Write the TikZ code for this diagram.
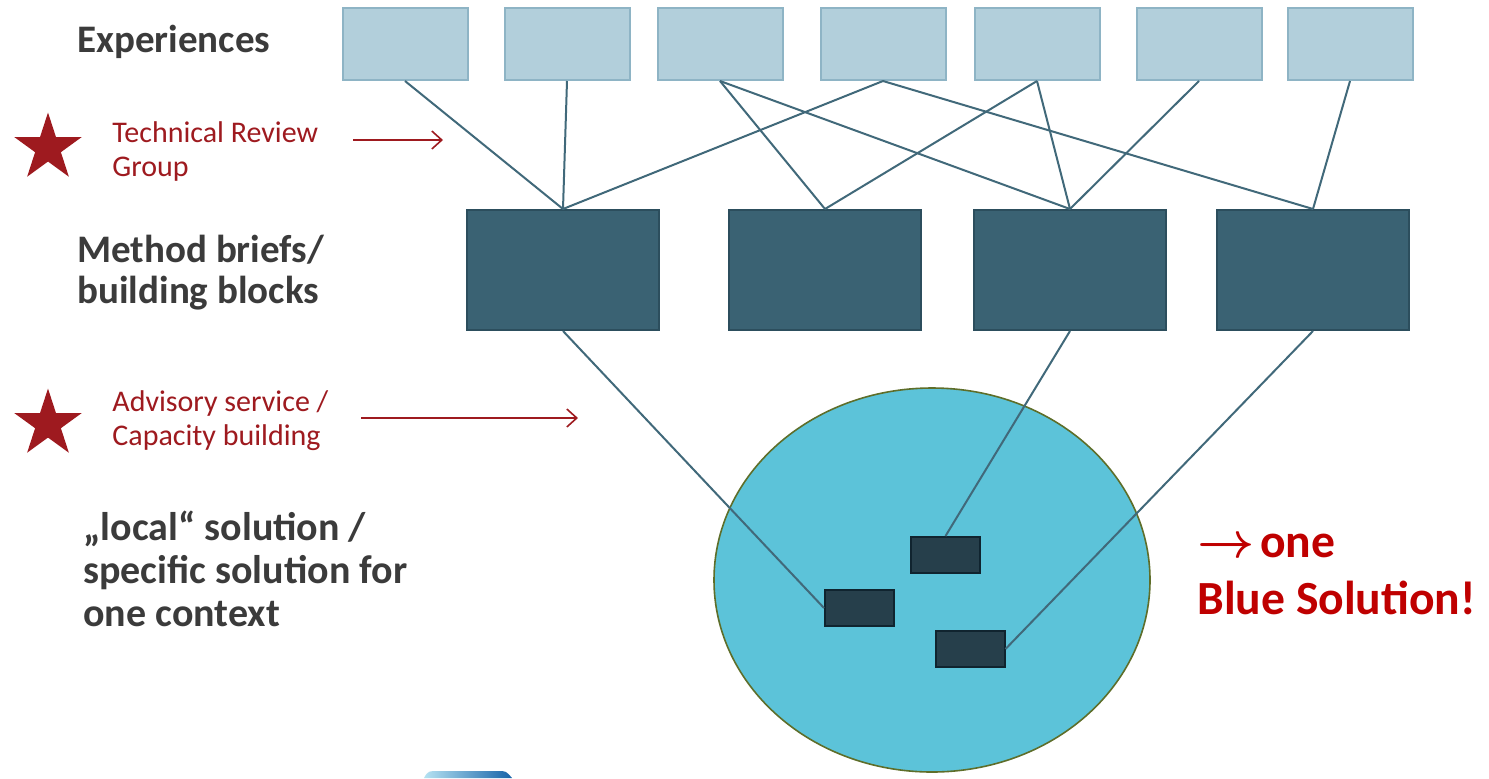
\documentclass[tikz,border=0pt]{standalone}
\usepackage{fontspec}
\setmainfont{Carlito}
\usepackage{tikz}
\usetikzlibrary{shapes.geometric,arrows.meta}
\definecolor{expfill}{HTML}{B2CFDB}
\definecolor{expline}{HTML}{8EB4C5}
\definecolor{brieffill}{HTML}{3A6273}
\definecolor{briefline}{HTML}{2C4E5D}
\definecolor{wire}{HTML}{41697A}
\definecolor{solfill}{HTML}{5CC3D9}
\definecolor{solline}{HTML}{5E6E2A}
\definecolor{localfill}{HTML}{263F4B}
\definecolor{localline}{HTML}{10242F}
\definecolor{darkred}{HTML}{9E1A1F}
\definecolor{logolight}{HTML}{B5E2F2}
\definecolor{logomid}{HTML}{12AEE0}
\definecolor{logodark}{HTML}{1763A8}
\colorlet{labeltext}{black!77}
\colorlet{bluesol}{red!75!black}

\begin{document}
\begin{tikzpicture}[
  x=0.5pt, y=-0.5pt,
  experience/.style={draw=expline, fill=expfill, line width=1pt, inner sep=0pt,
    minimum width=62.5pt, minimum height=36pt},
  brief/.style={draw=briefline, fill=brieffill, line width=1pt, inner sep=0pt,
    minimum width=96pt, minimum height=60pt},
  localbox/.style={draw=localline, fill=localfill, line width=1pt, inner sep=0pt,
    minimum width=34.5pt, minimum height=18pt},
  wire/.style={draw=wire, line width=1pt},
  redstar/.style={star, star points=5, star point ratio=2.618, fill=darkred,
    inner sep=0pt, minimum size=35.5pt},
  hint/.style={draw=darkred, line width=0.8pt, -{Straight Barb[length=5pt,width=9pt]}},
  bigtext/.style={text=labeltext, font=\bfseries\fontsize{19.5}{20.5}\selectfont,
    align=left, inner sep=0pt, anchor=base west},
  redtext/.style={text=darkred, font=\fontsize{15}{17}\selectfont,
    align=left, inner sep=0pt, anchor=base west},
]
\path[fill=white, use as bounding box] (0,0) rectangle (1489,778);

\foreach \i/\x in {1/405,2/567,3/720,4/883,5/1037,6/1199,7/1350}
  \node[experience] (e\i) at (\x,44) {};
\foreach \i/\x in {1/563,2/825,3/1070,4/1313}
  \node[brief] (b\i) at (\x,270) {};
\foreach \e/\b in {1/1,2/1,4/1,3/2,5/2,3/3,5/3,6/3,4/4,7/4}
  \draw[wire] (e\e.south) -- (b\b.north);

\node[ellipse, draw=solline, fill=solfill, line width=0.8pt, inner sep=0pt,
  minimum width=218pt, minimum height=192pt] (sol) at (932,580) {};
\node[localbox] (l1) at (859.5,608) {};
\node[localbox] (l2) at (945.5,555) {};
\node[localbox] (l3) at (970,649) {};
\draw[wire] (b1.south) -- (l1.west);
\draw[wire] (b3.south) -- (l2.north);
\draw[wire] (b4.south) -- (l3.east);

% multi-line nodes sit on their last baseline
\node[bigtext] (experiences) at (77,52) {Experiences};
\node[bigtext] (briefs) at (77,303) {Method briefs/\\building blocks};
\node[bigtext, font=\bfseries\fontsize{20}{21.5}\selectfont] (local) at (83,626)
  {„local“ solution /\\specific solution for\\one context};

\node[redstar] (star1) at (48,148) {};
\node[redtext] (review) at (112,176) {Technical Review\\Group};
\coordinate (review from) at (353,140);
\coordinate (review to) at (443,140);
\draw[hint] (review from) -- (review to);

\node[redstar] (star2) at (48,424) {};
\node[redtext] (advisory) at (112,445) {Advisory service /\\Capacity building};
\coordinate (advisory from) at (361,418);
\coordinate (advisory to) at (578,418);
\draw[hint] (advisory from) -- (advisory to);

\node[text=bluesol, font=\bfseries\fontsize{23.8}{28.5}\selectfont, align=left,
  inner sep=0pt, anchor=base west] (blue) at (1197,614)
  {{\boldmath$\rightarrow$}\hspace{0.12em}one\\Blue Solution!};

% logo edge at the bottom
\shade[left color=logolight, middle color=logomid, right color=logodark]
  (424,778) .. controls (428,771) .. (440,771) -- (498,771)
  .. controls (506,771) .. (512,778) -- cycle;
\end{tikzpicture}
\end{document}
